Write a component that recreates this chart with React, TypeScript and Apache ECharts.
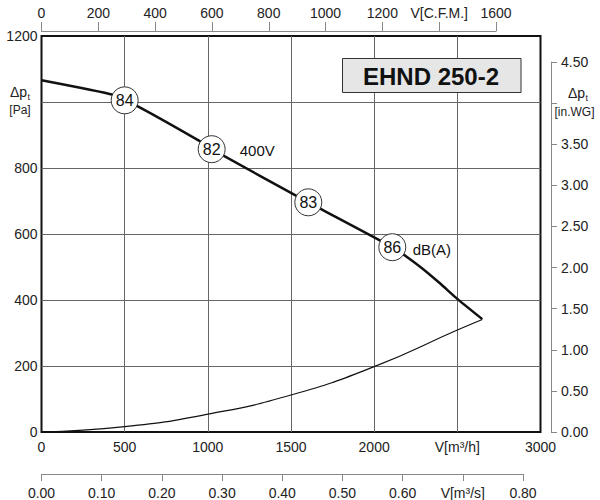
import React, { useEffect, useRef } from "react";
import * as echarts from "echarts";

// Fan curve (m³/h, Pa)
const fanFlow = [0, 430, 582, 949, 1023, 1604, 2109, 2276, 2397, 2496, 2650];
const fanPa = [1066, 1022, 986, 882, 857, 696, 560, 501, 450, 405, 342];
// System curve
const sysFlow = [0, 500, 1000, 1500, 2000, 2500, 2650];
const sysPa = [0, 16, 54, 112, 198, 309, 341];
// Noise level markers
const markerFlow = [500, 1023, 1604, 2109];
const markerPa = [1005, 857, 696, 560];
const markerDb = ["84", "82", "83", "86"];
// Annotations
const noteFlow = [1189, 2229];
const notePa = [852, 552];
const noteText = ["400V", "dB(A)"];

const FONT = "Liberation Sans, Arial, sans-serif";
const LABEL_COLOR = "#222";
const AXIS_COLOR = "#888";

export default function App() {
  const ref = useRef<HTMLDivElement>(null);
  useEffect(() => {
    if (!ref.current) return;
    const chart = echarts.init(ref.current, undefined, { renderer: "svg" });
    const labelStyle = { fontSize: 14, color: LABEL_COLOR, fontFamily: FONT };
    chart.setOption({
      animation: false,
      textStyle: { fontFamily: FONT },
      grid: [
        { left: 41.5, top: 36, width: 499, height: 396, show: true, borderColor: "#111", borderWidth: 2, backgroundColor: "transparent" },
        { left: 41.5, top: 30, width: 454.5, height: 1 },
        { left: 551, top: 62, width: 1, height: 370 },
        { left: 41.5, top: 473, width: 481.5, height: 1 },
      ],
      xAxis: [
        {
          gridIndex: 0, type: "value", min: 0, max: 3000, interval: 500,
          axisLine: { show: false }, axisTick: { show: false },
          splitLine: { show: true, showMinLine: false, showMaxLine: false, lineStyle: { color: "#666", width: 1 } },
          axisLabel: { ...labelStyle, margin: 8, formatter: (v: number) => (v === 2500 ? "V[m³/h]" : String(v)) },
        },
        {
          gridIndex: 1, type: "value", position: "top", min: 0, max: 1600, interval: 200,
          axisLine: { show: true, lineStyle: { color: AXIS_COLOR, width: 1 } },
          axisTick: { show: true, length: 9, lineStyle: { color: AXIS_COLOR } },
          splitLine: { show: false },
          axisLabel: { ...labelStyle, margin: 10, formatter: (v: number) => (v === 1400 ? "V[C.F.M.]" : String(v)) },
        },
        { gridIndex: 2, type: "value", show: false, min: 0, max: 1 },
        {
          gridIndex: 3, type: "value", position: "bottom", min: 0, max: 0.8, interval: 0.1,
          axisLine: { show: true, lineStyle: { color: AXIS_COLOR, width: 1 } },
          axisTick: { show: true, length: 7, lineStyle: { color: AXIS_COLOR } },
          splitLine: { show: false },
          axisLabel: { ...labelStyle, margin: 12, formatter: (v: number) => (Math.abs(v - 0.7) < 1e-6 ? "V[m³/s]" : v.toFixed(2)) },
        },
      ],
      yAxis: [
        {
          gridIndex: 0, type: "value", min: 0, max: 1200, interval: 200,
          axisLine: { show: false }, axisTick: { show: false },
          splitLine: { show: true, showMinLine: false, showMaxLine: false, lineStyle: { color: "#666", width: 1 } },
          axisLabel: { ...labelStyle, margin: 4, formatter: (v: number) => (v === 1000 ? "" : String(v)) },
        },
        { gridIndex: 1, type: "value", show: false, min: 0, max: 1 },
        {
          gridIndex: 2, type: "value", position: "right", min: 0, max: 4.5, interval: 0.5,
          axisLine: { show: true, lineStyle: { color: AXIS_COLOR, width: 1 } },
          axisTick: { show: true, length: 6, lineStyle: { color: AXIS_COLOR } },
          splitLine: { show: false },
          axisLabel: { ...labelStyle, margin: 9, formatter: (v: number) => (Math.abs(v - 4) < 1e-6 ? "" : v.toFixed(2)) },
        },
        { gridIndex: 3, type: "value", show: false, min: 0, max: 1 },
      ],
      series: [
        {
          type: "line", xAxisIndex: 0, yAxisIndex: 0, showSymbol: false, smooth: 0.5,
          data: sysFlow.map((q, i) => [q, sysPa[i]]),
          lineStyle: { color: "#111", width: 1.2 }, z: 2,
        },
        {
          type: "line", xAxisIndex: 0, yAxisIndex: 0, showSymbol: false, smooth: 0.15,
          data: fanFlow.map((q, i) => [q, fanPa[i]]),
          lineStyle: { color: "#111", width: 2.5 }, z: 3,
        },
        {
          type: "scatter", xAxisIndex: 0, yAxisIndex: 0, symbol: "circle", symbolSize: 27,
          data: markerFlow.map((q, i) => [q, markerPa[i], markerDb[i]]),
          itemStyle: { color: "#fff", borderColor: "#333", borderWidth: 1, opacity: 1 },
          label: { show: true, position: "inside", formatter: (p: any) => p.value[2], fontSize: 16, color: "#111", fontFamily: FONT },
          z: 5,
        },
        {
          type: "scatter", xAxisIndex: 0, yAxisIndex: 0, symbolSize: 1,
          data: noteFlow.map((q, i) => [q, notePa[i], noteText[i]]),
          itemStyle: { color: "#fff", opacity: 1 },
          label: { show: true, position: "right", distance: 0, formatter: (p: any) => p.value[2], fontSize: 15, color: "#111", opacity: 1, fontFamily: FONT },
          z: 5,
        },
      ],
      graphic: [
        {
          type: "rect", shape: { x: 342.5, y: 58.5, width: 178.5, height: 34 },
          style: { fill: "#e6e6e6", stroke: "#333", lineWidth: 1 }, z: 10,
        },
        {
          type: "text", x: 431, y: 76, z: 11,
          style: { text: "EHND 250-2", fontSize: 24, fontWeight: "bold", fontFamily: FONT, fill: "#111", align: "center", verticalAlign: "middle" },
        },
        { type: "text", x: 10, y: 92, style: { text: "Δp", fontSize: 14, fontFamily: FONT, fill: LABEL_COLOR, align: "left", verticalAlign: "middle" } },
        { type: "text", x: 27.5, y: 97, style: { text: "t", fontSize: 9, fontFamily: FONT, fill: LABEL_COLOR, align: "left", verticalAlign: "middle" } },
        { type: "text", x: 20, y: 110, style: { text: "[Pa]", fontSize: 12, fontFamily: FONT, fill: LABEL_COLOR, align: "center", verticalAlign: "middle" } },
        { type: "text", x: 568, y: 93, style: { text: "Δp", fontSize: 14, fontFamily: FONT, fill: LABEL_COLOR, align: "left", verticalAlign: "middle" } },
        { type: "text", x: 585.5, y: 98, style: { text: "t", fontSize: 9, fontFamily: FONT, fill: LABEL_COLOR, align: "left", verticalAlign: "middle" } },
        { type: "text", x: 574.5, y: 112, style: { text: "[in.WG]", fontSize: 12, fontFamily: FONT, fill: LABEL_COLOR, align: "center", verticalAlign: "middle" } },
      ],
    });
    return () => chart.dispose();
  }, []);
  return (
    <div
      ref={ref}
      style={{ position: "fixed", left: 0, top: 0, width: 600, height: 500, background: "#fff" }}
    />
  );
}
